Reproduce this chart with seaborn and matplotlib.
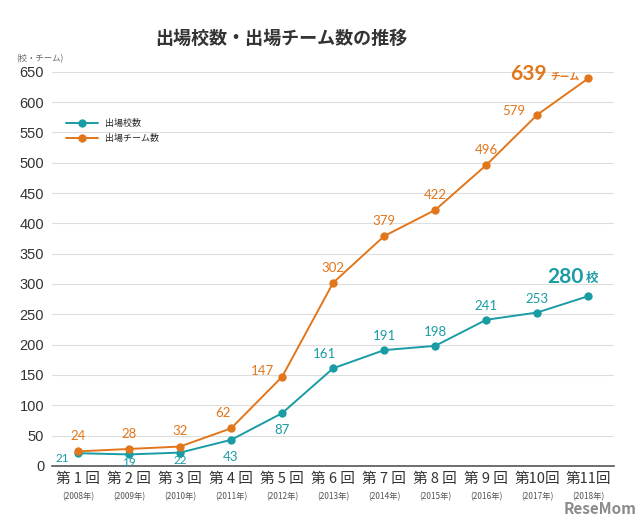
import seaborn as sns
import matplotlib.pyplot as plt
import matplotlib.transforms as mtransforms
import pandas as pd
import numpy as np

# data
rounds = ["第 1 回", "第 2 回", "第 3 回", "第 4 回", "第 5 回", "第 6 回",
          "第 7 回", "第 8 回", "第 9 回", "第10回", "第11回"]
years = ["(2008年)", "(2009年)", "(2010年)", "(2011年)", "(2012年)", "(2013年)",
         "(2014年)", "(2015年)", "(2016年)", "(2017年)", "(2018年)"]
schools = [21, 19, 22, 43, 87, 161, 191, 198, 241, 253, 280]
teams = [24, 28, 32, 62, 147, 302, 379, 422, 496, 579, 639]

teal = "#1a9ca4"
orange = "#e2761b"
num_font = ["Lato", "Noto Sans CJK JP"]

df = pd.DataFrame({
    "pos": list(range(len(rounds))) * 2,
    "value": schools + teams,
    "series": ["出場校数"] * len(rounds) + ["出場チーム数"] * len(rounds),
})

sns.set_style("white")
plt.rcParams["font.family"] = ["Noto Sans CJK JP", "DejaVu Sans"]

fig = plt.figure(figsize=(6.4, 5.16), dpi=100)
ax = fig.add_axes([0.082, 0.097, 0.877, 0.764])

sns.lineplot(data=df, x="pos", y="value", hue="series",
             palette={"出場校数": teal, "出場チーム数": orange},
             marker="o", markersize=6, markeredgewidth=0, linewidth=1.4, ax=ax)

ax.set_xlim(-0.5, len(rounds) - 0.5)
ax.set_ylim(0, 650)
ax.set_yticks(range(0, 651, 50))
ax.set_yticklabels([str(v) for v in range(0, 651, 50)],
                   family=["Liberation Sans", "DejaVu Sans"])
ax.tick_params(axis="y", length=0, labelsize=10.5, labelcolor="#333333", pad=6)
ax.yaxis.grid(True, color="#dddddd", linewidth=0.8)
ax.set_axisbelow(True)

# x axis: category bands with ticks at the boundaries
ax.set_xticks(np.arange(-0.5, len(rounds), 1.0))
ax.set_xticklabels([])
ax.tick_params(axis="x", direction="in", length=4, color="#555555", width=0.8)
for s in ["top", "right", "left"]:
    ax.spines[s].set_visible(False)
ax.spines["bottom"].set_color("#555555")
ax.spines["bottom"].set_linewidth(1.2)

trans = mtransforms.blended_transform_factory(ax.transData, ax.transAxes)
for i, (r, y) in enumerate(zip(rounds, years)):
    ax.text(i, -0.016, r, transform=trans, ha="center", va="top",
            fontsize=10.5, color="#333333")
    ax.text(i, -0.066, y, transform=trans, ha="center", va="top",
            fontsize=6, color="#555555")

ax.set_xlabel("")
ax.set_ylabel("")

# value labels, schools
school_off = [(-11, -4), (0, -5.8), (0, -5.8), (0, -12), (0, -12), (-6, 10),
              (0, 10), (0, 10), (0, 10), (0, 10)]
for i, v in enumerate(schools[:-1]):
    dx, dy = school_off[i]
    ax.annotate(str(v), (i, v), xytext=(dx, dy), textcoords="offset points",
                ha="center", va="center", fontsize=8.5 if i < 3 else 9.5,
                color=teal, family=num_font, zorder=6)
ax.annotate("280", (10, 280), xytext=(-3, 14), textcoords="offset points",
            ha="right", va="center", fontsize=15, fontweight="bold",
            color=teal, family=num_font)
ax.annotate("校", (10, 280), xytext=(-2, 13), textcoords="offset points",
            ha="left", va="center", fontsize=9, fontweight="bold", color=teal)

# value labels, teams
team_off = [(0, 11), (0, 11), (0, 11), (-6, 11), (-14, 4), (0, 11),
            (0, 11), (0, 11), (0, 11), (-17, 3)]
for i, v in enumerate(teams[:-1]):
    dx, dy = team_off[i]
    ax.annotate(str(v), (i, v), xytext=(dx, dy), textcoords="offset points",
                ha="center", va="center", fontsize=9.5, color=orange,
                family=num_font)
ax.annotate("639", (10, 639), xytext=(-30, 3), textcoords="offset points",
            ha="right", va="center", fontsize=15, fontweight="bold",
            color=orange, family=num_font)
ax.annotate("チーム", (10, 639), xytext=(-27, 1), textcoords="offset points",
            ha="left", va="center", fontsize=7, fontweight="bold", color=orange)

ax.legend(loc="upper left", bbox_to_anchor=(0.01, 0.9), frameon=False,
          fontsize=6.5, handlelength=3.5, labelspacing=0.6)

fig.text(0.44, 0.925, "出場校数・出場チーム数の推移", ha="center", va="center",
         fontsize=13, fontweight="bold", color="#333333")
fig.text(0.025, 0.886, "(校・チーム)", ha="left", va="center",
         fontsize=6, color="#666666")
fig.text(0.995, 0.004, "ReseMom", ha="right", va="baseline", fontsize=11,
         fontweight="bold", color="#777777", alpha=0.85)

plt.savefig("out.png", dpi=100)
plt.close()
